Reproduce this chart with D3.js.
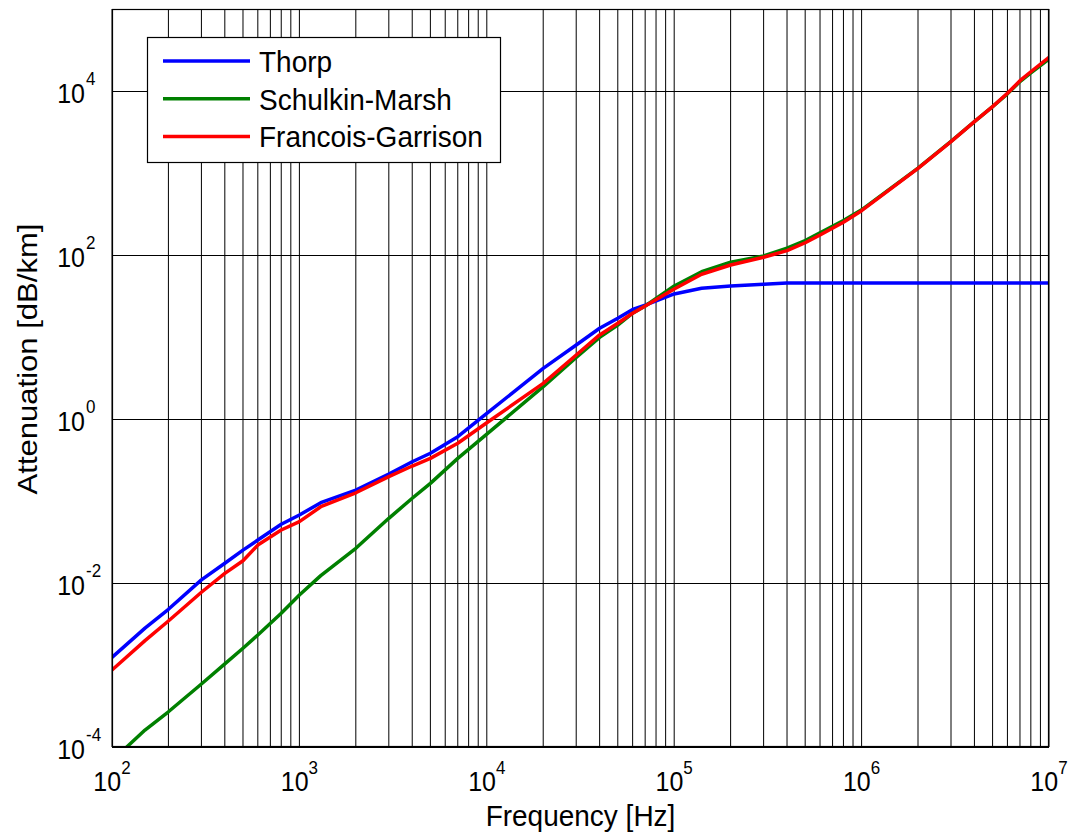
<!DOCTYPE html>
<html>
<head>
<meta charset="utf-8">
<script src="https://cdn.jsdelivr.net/npm/d3@7"></script>
<style>
    body { margin: 0; background: #fff; }
    svg text { font-family: "Liberation Sans", Arial, sans-serif; fill: #000; }
</style>
</head>
<body>
<div id="chart"></div>
<script>
const frequencies = [100, 150, 200, 300, 400, 500, 600, 800, 1000, 1300, 2000, 3000, 4000, 5000, 7000,
    1e4, 2e4, 3e4, 4e4, 5e4, 6e4, 7e4, 1e5, 1.4e5, 2e5, 3e5, 4e5, 5e5, 6e5, 8e5,
    1e6, 2e6, 3e6, 4e6, 5e6, 6e6, 7e6, 8e6, 1e7];

// Attenuation in dB/km
const thorp = [0.00124, 0.00282, 0.00478, 0.0109, 0.0174, 0.0252, 0.0334, 0.052, 0.0675, 0.0953, 0.136, 0.213, 0.301, 0.382, 0.608,
    1.17, 4.15, 7.98, 12.8, 16.9, 21.7, 24.5, 33.5, 39.3, 41.9, 44.0, 45.7, 45.7, 45.7, 45.7,
    45.7, 45.7, 45.7, 45.7, 45.7, 45.7, 45.7, 45.7, 45.7];

const schulkinMarsh = [0.000068, 0.000161, 0.000269, 0.000586, 0.00103, 0.0016, 0.00232, 0.00427, 0.00714, 0.0123, 0.0265, 0.0615, 0.108, 0.164, 0.331,
    0.653, 2.48, 5.65, 9.91, 14.0, 19.5, 23.9, 41.9, 62.5, 81.5, 97.3, 121, 150, 186, 263,
    355, 1148, 2427, 4227, 6442, 9226, 13030, 16600, 24550];

const francoisGarrison = [0.000869, 0.00198, 0.00344, 0.00771, 0.0131, 0.0187, 0.029, 0.0443, 0.056, 0.0851, 0.126, 0.198, 0.267, 0.331, 0.506,
    0.90, 2.72, 6.03, 10.6, 14.7, 19.5, 23.9, 38.5, 58.2, 75.5, 93.8, 113, 141, 175, 251,
    347, 1140, 2410, 4227, 6442, 9376, 13370, 17180, 25760];

const seriesNames = ["Thorp", "Schulkin-Marsh", "Francois-Garrison"];
const seriesColors = ["#0000ff", "#008000", "#ff0000"];

const xTickExponents = [2, 3, 4, 5, 6, 7];
const yTickExponents = [-4, -2, 0, 2, 4];

class AttenuationChart {
    constructor(parentElement) {
        this.parentElement = parentElement;
        this.initVis();
    }

    initVis() {
        const vis = this;

        vis.MARGIN = { LEFT: 112, RIGHT: 19, TOP: 9, BOTTOM: 86 };
        vis.WIDTH = 1068 - vis.MARGIN.LEFT - vis.MARGIN.RIGHT;
        vis.HEIGHT = 833 - vis.MARGIN.TOP - vis.MARGIN.BOTTOM;

        vis.svgRoot = d3.select(vis.parentElement).append("svg")
            .attr("width", 1068)
            .attr("height", 833);

        vis.svg = vis.svgRoot.append("g")
            .attr("transform", `translate(${vis.MARGIN.LEFT}, ${vis.MARGIN.TOP})`);

        vis.xScale = d3.scaleLog().domain([1e2, 1e7]).range([0, vis.WIDTH]);
        vis.yScale = d3.scaleLog().domain([1e-4, 1e5]).range([vis.HEIGHT, 0]);

        vis.series = [thorp, schulkinMarsh, francoisGarrison].map((values, i) => ({
            name: seriesNames[i],
            color: seriesColors[i],
            values: frequencies.map((f, j) => ({ f, v: values[j] }))
        }));

        vis.addGrid();
        vis.addLines();
        vis.addAxes();
        vis.addLegend();
    }

    addGrid() {
        const vis = this;

        // every 1..9 x decade vertical line
        const xGrid = [];
        for (let e = 2; e < 7; e++) {
            for (let m = 1; m < 10; m++) xGrid.push(m * Math.pow(10, e));
        }
        xGrid.push(1e7);

        vis.svg.append("g").attr("class", "x-grid")
            .selectAll("line")
            .data(xGrid)
            .join("line")
            .attr("x1", d => vis.xScale(d))
            .attr("x2", d => vis.xScale(d))
            .attr("y1", 0)
            .attr("y2", vis.HEIGHT)
            .attr("stroke", "#000")
            .attr("stroke-width", 1);

        vis.svg.append("g").attr("class", "y-grid")
            .selectAll("line")
            .data(yTickExponents.map(e => Math.pow(10, e)))
            .join("line")
            .attr("x1", 0)
            .attr("x2", vis.WIDTH)
            .attr("y1", d => Math.round(vis.yScale(d)) + 0.5)
            .attr("y2", d => Math.round(vis.yScale(d)) + 0.5)
            .attr("stroke", "#000")
            .attr("stroke-width", 1);
    }

    addLines() {
        const vis = this;

        vis.svg.append("clipPath").attr("id", "plot-clip")
            .append("rect")
            .attr("width", vis.WIDTH)
            .attr("height", vis.HEIGHT);

        const line = d3.line()
            .x(d => vis.xScale(d.f))
            .y(d => vis.yScale(d.v));

        vis.svg.append("g")
            .attr("clip-path", "url(#plot-clip)")
            .selectAll("path")
            .data(vis.series)
            .join("path")
            .attr("d", d => line(d.values))
            .attr("fill", "none")
            .attr("stroke", d => d.color)
            .attr("stroke-width", 3.5)
            .attr("stroke-linejoin", "round");
    }

    addAxes() {
        const vis = this;

        // frame
        vis.svg.append("rect")
            .attr("x", 0.5)
            .attr("y", 0.5)
            .attr("width", vis.WIDTH - 1)
            .attr("height", vis.HEIGHT - 1)
            .attr("fill", "none")
            .attr("stroke", "#000")
            .attr("stroke-width", 1.2);

        // the reference glyphs are a little taller than they are wide
        const stretch = 1.13;

        const xLabels = vis.svg.append("g").attr("class", "x-axis")
            .selectAll("text")
            .data(xTickExponents)
            .join("text")
            .attr("transform", d => `translate(${vis.xScale(Math.pow(10, d))}, ${vis.HEIGHT + 44}) scale(1, ${stretch})`)
            .style("text-anchor", "middle")
            .style("font-size", "25px");
        xLabels.append("tspan").text("10");
        xLabels.append("tspan")
            .attr("dy", -15)
            .style("font-size", "17px")
            .text(d => d);

        const yAxis = vis.svg.append("g").attr("class", "y-axis");
        yAxis.selectAll("text.base")
            .data(yTickExponents)
            .join("text")
            .attr("class", "base")
            .attr("transform", d => `translate(-27, ${vis.yScale(Math.pow(10, d)) + 12}) scale(1, ${stretch})`)
            .style("text-anchor", "end")
            .style("font-size", "25px")
            .text("10");
        yAxis.selectAll("text.exp")
            .data(yTickExponents)
            .join("text")
            .attr("class", "exp")
            .attr("transform", d => `translate(-26, ${vis.yScale(Math.pow(10, d)) - 6}) scale(1, ${stretch})`)
            .style("font-size", "17px")
            .text(d => d);

        vis.svgRoot.append("text")
            .attr("transform", `translate(${vis.MARGIN.LEFT + vis.WIDTH / 2}, 826) scale(1, 1.08)`)
            .style("text-anchor", "middle")
            .style("font-size", "28px")
            .text("Frequency [Hz]");

        vis.svgRoot.append("text")
            .attr("transform", "translate(37, 359) rotate(-90) scale(1.15, 1)")
            .style("text-anchor", "middle")
            .style("font-size", "27px")
            .text("Attenuation [dB/km]");
    }

    addLegend() {
        const vis = this;

        const legend = vis.svgRoot.append("g")
            .attr("class", "legend-group")
            .attr("transform", "translate(147, 37)");

        legend.append("rect")
            .attr("x", 0.5)
            .attr("y", 0.5)
            .attr("width", 353)
            .attr("height", 125)
            .attr("fill", "#fff")
            .attr("stroke", "#000")
            .attr("stroke-width", 1.2);

        legend.selectAll(".legend")
            .data(vis.series)
            .join("g")
            .attr("class", "legend")
            .attr("transform", (d, i) => `translate(0, ${24 + i * 37.7})`)
            .each(function (d) {
                const item = d3.select(this);

                item.append("line")
                    .attr("x1", 16)
                    .attr("x2", 103)
                    .attr("stroke", d.color)
                    .attr("stroke-width", 3.5);

                item.append("text")
                    .attr("transform", "translate(112, 11) scale(1, 1.08)")
                    .style("font-size", "28px")
                    .text(d.name);
            });
    }
}

new AttenuationChart("#chart");
</script>
</body>
</html>
